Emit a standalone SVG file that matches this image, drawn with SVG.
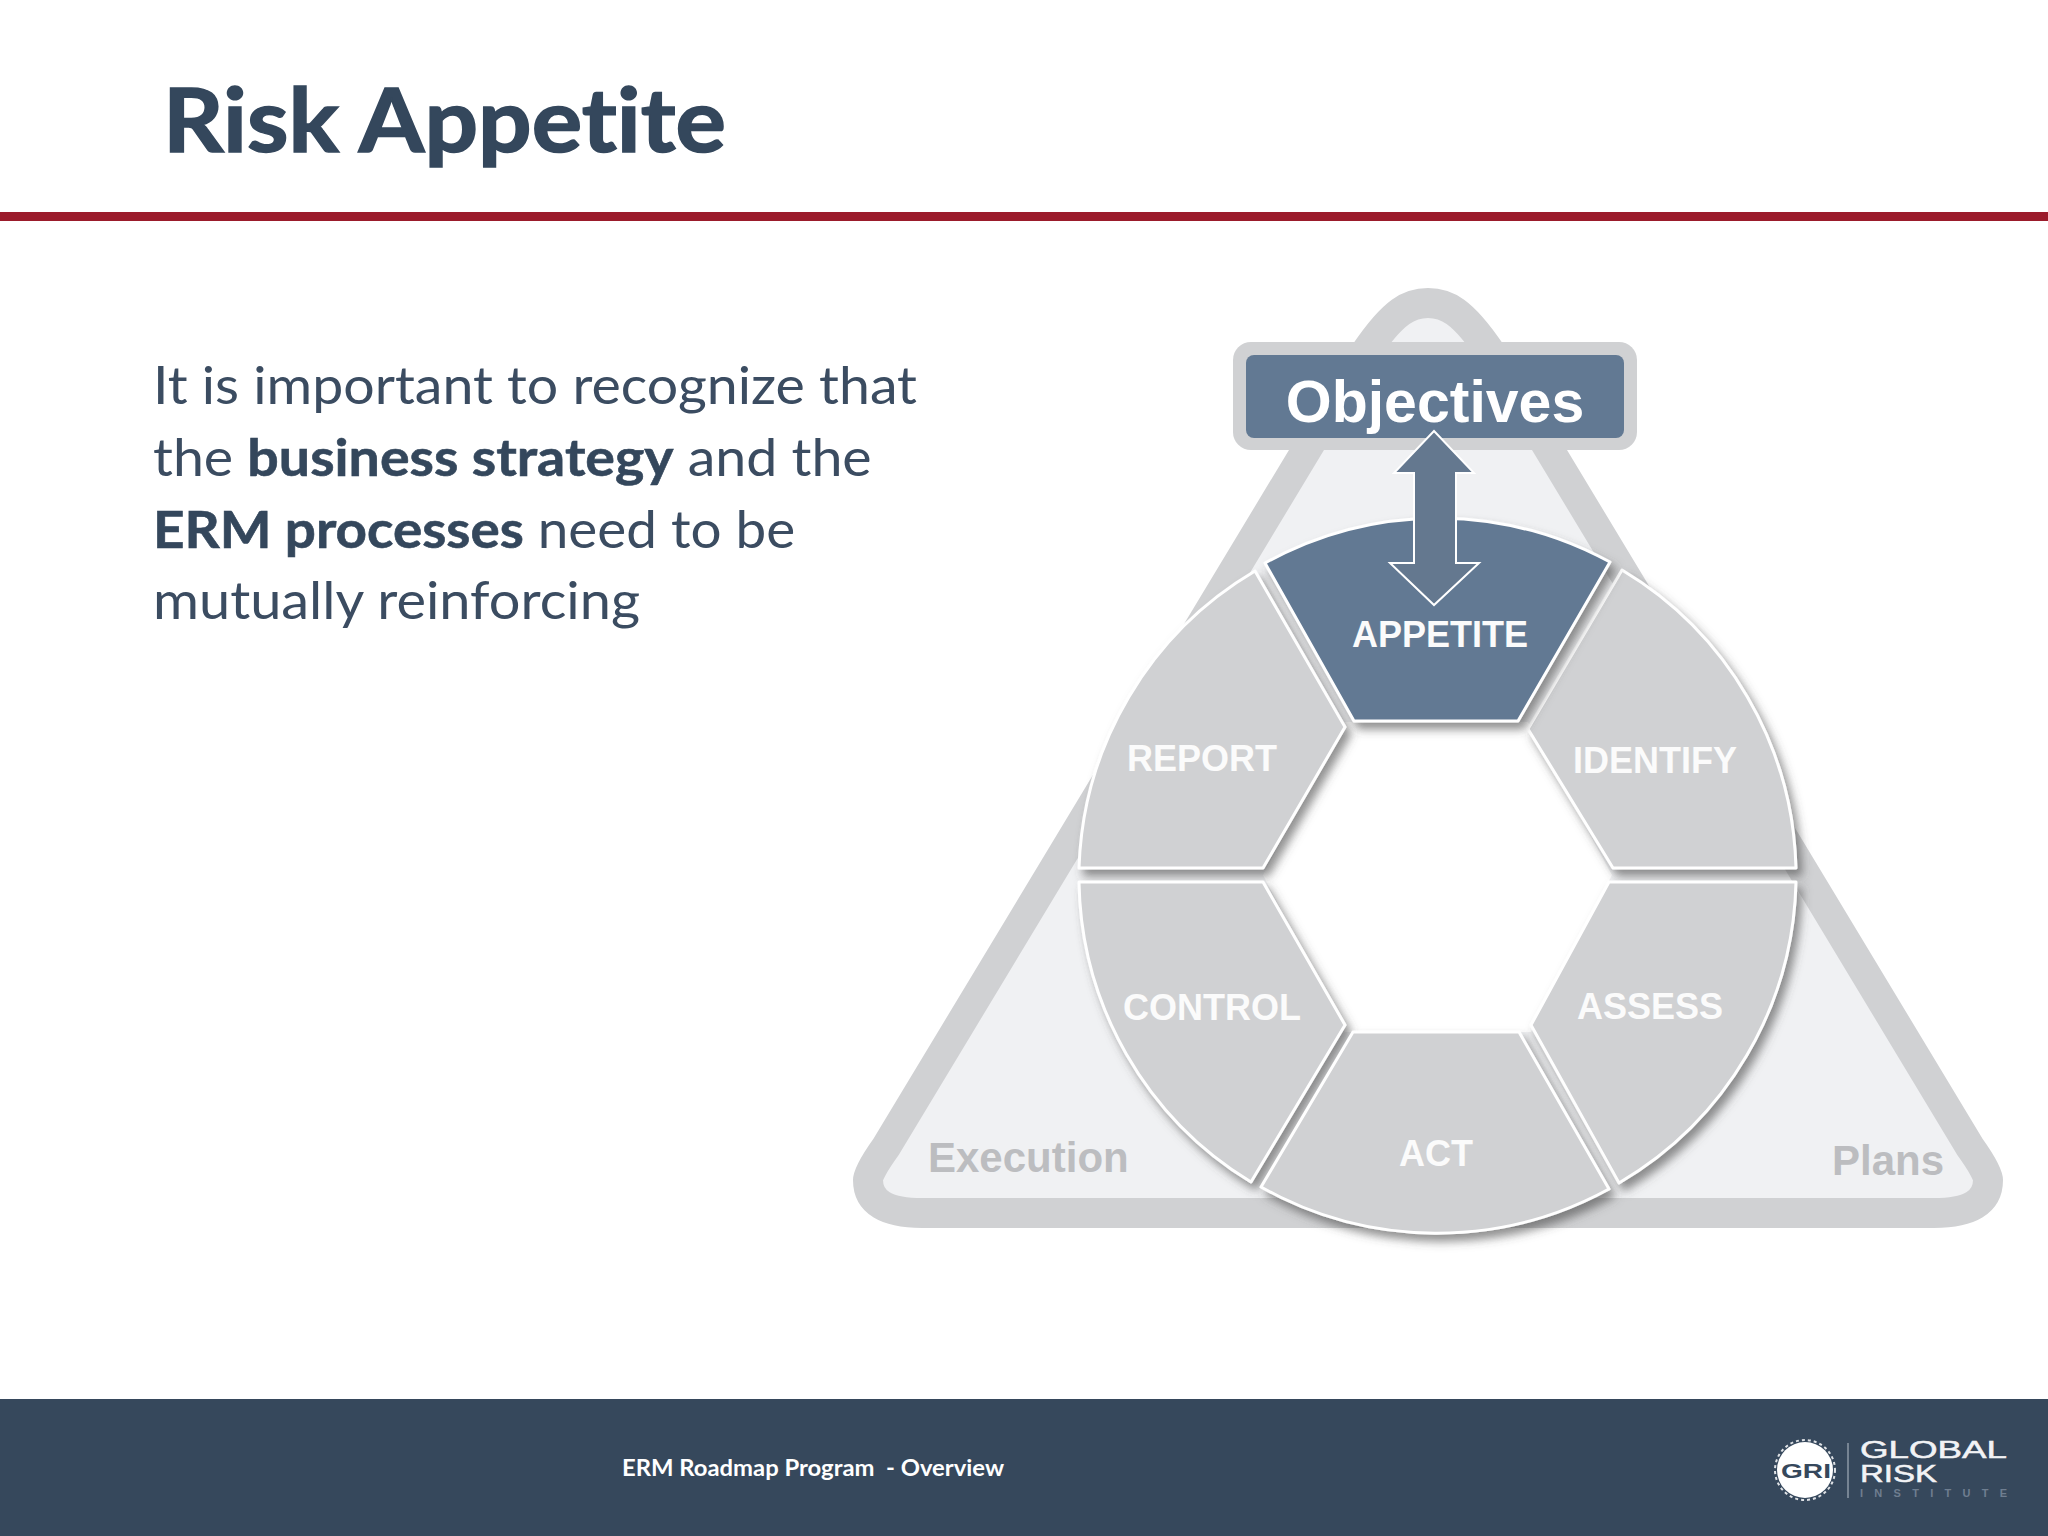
<svg xmlns="http://www.w3.org/2000/svg" width="2048" height="1536" viewBox="0 0 2048 1536">
<style>
.h{font-family:"Lato","Open Sans",sans-serif;font-variant-ligatures:none}
.a{font-family:"Liberation Sans",Arial,sans-serif;font-weight:700}
.seg{fill:#d0d1d3;stroke:#fff;stroke-width:3;stroke-linejoin:round;filter:url(#sh)}
.lab{fill:#fbfbfb;font-size:36px;text-anchor:middle}
.body{fill:#3b4c61;font-size:52px}
.b{font-weight:700;fill:#34475c;stroke:#34475c;stroke-width:.6}
.cap{fill:#bcbdc0;font-size:42px}
</style>
<defs>
<filter id="sh" x="-15%" y="-15%" width="130%" height="130%"><feDropShadow dx="5" dy="7" stdDeviation="5" flood-color="#4a4a4a" flood-opacity=".6"/></filter>
</defs>
<rect width="2048" height="1536" fill="#fff"/>
<g id="header">
<text class="h" x="163" y="152" font-size="88" font-weight="700" fill="#34475c" stroke="#34475c" stroke-width="1.5" textLength="563" lengthAdjust="spacingAndGlyphs">Risk Appetite</text>
<rect y="212" width="2048" height="9" fill="#9b1b2b"/>
</g>
<g id="body-text">
<text class="h body" x="153" y="404" textLength="764" lengthAdjust="spacingAndGlyphs">It is important to recognize that</text>
<text class="h body" transform="translate(153 476) scale(1.067 1)">the <tspan class="b">business strategy</tspan> and the</text>
<text class="h body" transform="translate(153 548) scale(1.054 1)"><tspan class="b">ERM processes</tspan> need to be</text>
<text class="h body" x="153" y="619" textLength="487" lengthAdjust="spacingAndGlyphs">mutually reinforcing</text>
</g>
<g id="triangle">
<path d="M922 1213H1934Q1988 1213 1988 1180Q1988 1172 1970 1147L1491 353C1462 310 1446 303 1428 303C1410 303 1394 310 1365 353L886 1147Q868 1172 868 1180Q868 1213 922 1213Z" fill="#f0f1f3" stroke="#d0d1d3" stroke-width="30" stroke-linejoin="round"/>
<text class="a cap" x="928" y="1172">Execution</text>
<text class="a cap" x="1832" y="1175">Plans</text>
<path d="M1345 722H1528L1612 875L1531 1032H1345L1263 875Z" fill="#fff"/>
</g>
<g id="objectives">
<rect x="1233" y="342" width="404" height="108" rx="18" fill="#d0d1d3"/>
<rect x="1246" y="355" width="378" height="83" rx="8" fill="#627993"/>
<text class="a" x="1435" y="422" font-size="59" fill="#fff" text-anchor="middle">Objectives</text>
</g>
<g id="report"><path class="seg" d="M1079 868A358 358 0 0 1 1255 571L1345 727L1263 868Z"/><text class="a lab" x="1202" y="771">REPORT</text></g>
<g id="identify"><path class="seg" d="M1622 570A358 358 0 0 1 1796 868H1613L1528 729Z"/><text class="a lab" x="1655" y="773">IDENTIFY</text></g>
<g id="control"><path class="seg" d="M1079 882H1263L1345 1025L1251 1182A358 358 0 0 1 1079 882Z"/><text class="a lab" x="1212" y="1020">CONTROL</text></g>
<g id="assess"><path class="seg" d="M1796 882H1609L1531 1025L1619 1183A358 358 0 0 0 1796 882Z"/><text class="a lab" x="1650" y="1019">ASSESS</text></g>
<g id="act"><path class="seg" d="M1353 1032H1519L1609 1189A358 358 0 0 1 1261 1187Z"/><text class="a lab" x="1436" y="1166">ACT</text></g>
<g id="appetite"><path class="seg" style="fill:#627993" d="M1265 563A358 358 0 0 1 1610 562L1518 721H1354Z"/><text class="a lab" x="1440" y="647">APPETITE</text></g>
<g id="connectors">
<path d="M1434 431L1474 473H1456V563H1479L1434 605L1390 563H1414V473H1394Z" fill="#64788f" stroke="#fff" stroke-width="2" stroke-linejoin="miter"/>
</g>
<g id="footer">
<rect y="1399" width="2048" height="137" fill="#36485c"/>
<text class="h" x="622" y="1476" font-size="22.5" font-weight="700" fill="#fff" textLength="382" lengthAdjust="spacingAndGlyphs" style="white-space:pre">ERM Roadmap Program  - Overview</text>
</g>
<g id="logo">
<circle cx="1805" cy="1470" r="28" fill="#fff"/>
<circle cx="1805" cy="1470" r="30" fill="none" stroke="#dfe2e6" stroke-width="2" stroke-dasharray="3 3"/>
<text class="a" x="1781" y="1478" font-size="21" fill="#36485c" textLength="50" lengthAdjust="spacingAndGlyphs">GRI</text>
<path d="M1848 1443V1498" stroke="#8c98a6" stroke-width="1.5"/>
<text x="1860" y="1458" font-family="Liberation Sans,sans-serif" font-size="23" fill="#f2f3f5" stroke="#f2f3f5" stroke-width=".5" textLength="147" lengthAdjust="spacingAndGlyphs">GLOBAL</text>
<text x="1860" y="1482" font-family="Liberation Sans,sans-serif" font-size="23" fill="#f2f3f5" stroke="#f2f3f5" stroke-width=".5" textLength="77" lengthAdjust="spacingAndGlyphs">RISK</text>
<text class="a" x="1860" y="1497" font-size="11" fill="#6f7e90" textLength="147">INSTITUTE</text>
</g>
</svg>
